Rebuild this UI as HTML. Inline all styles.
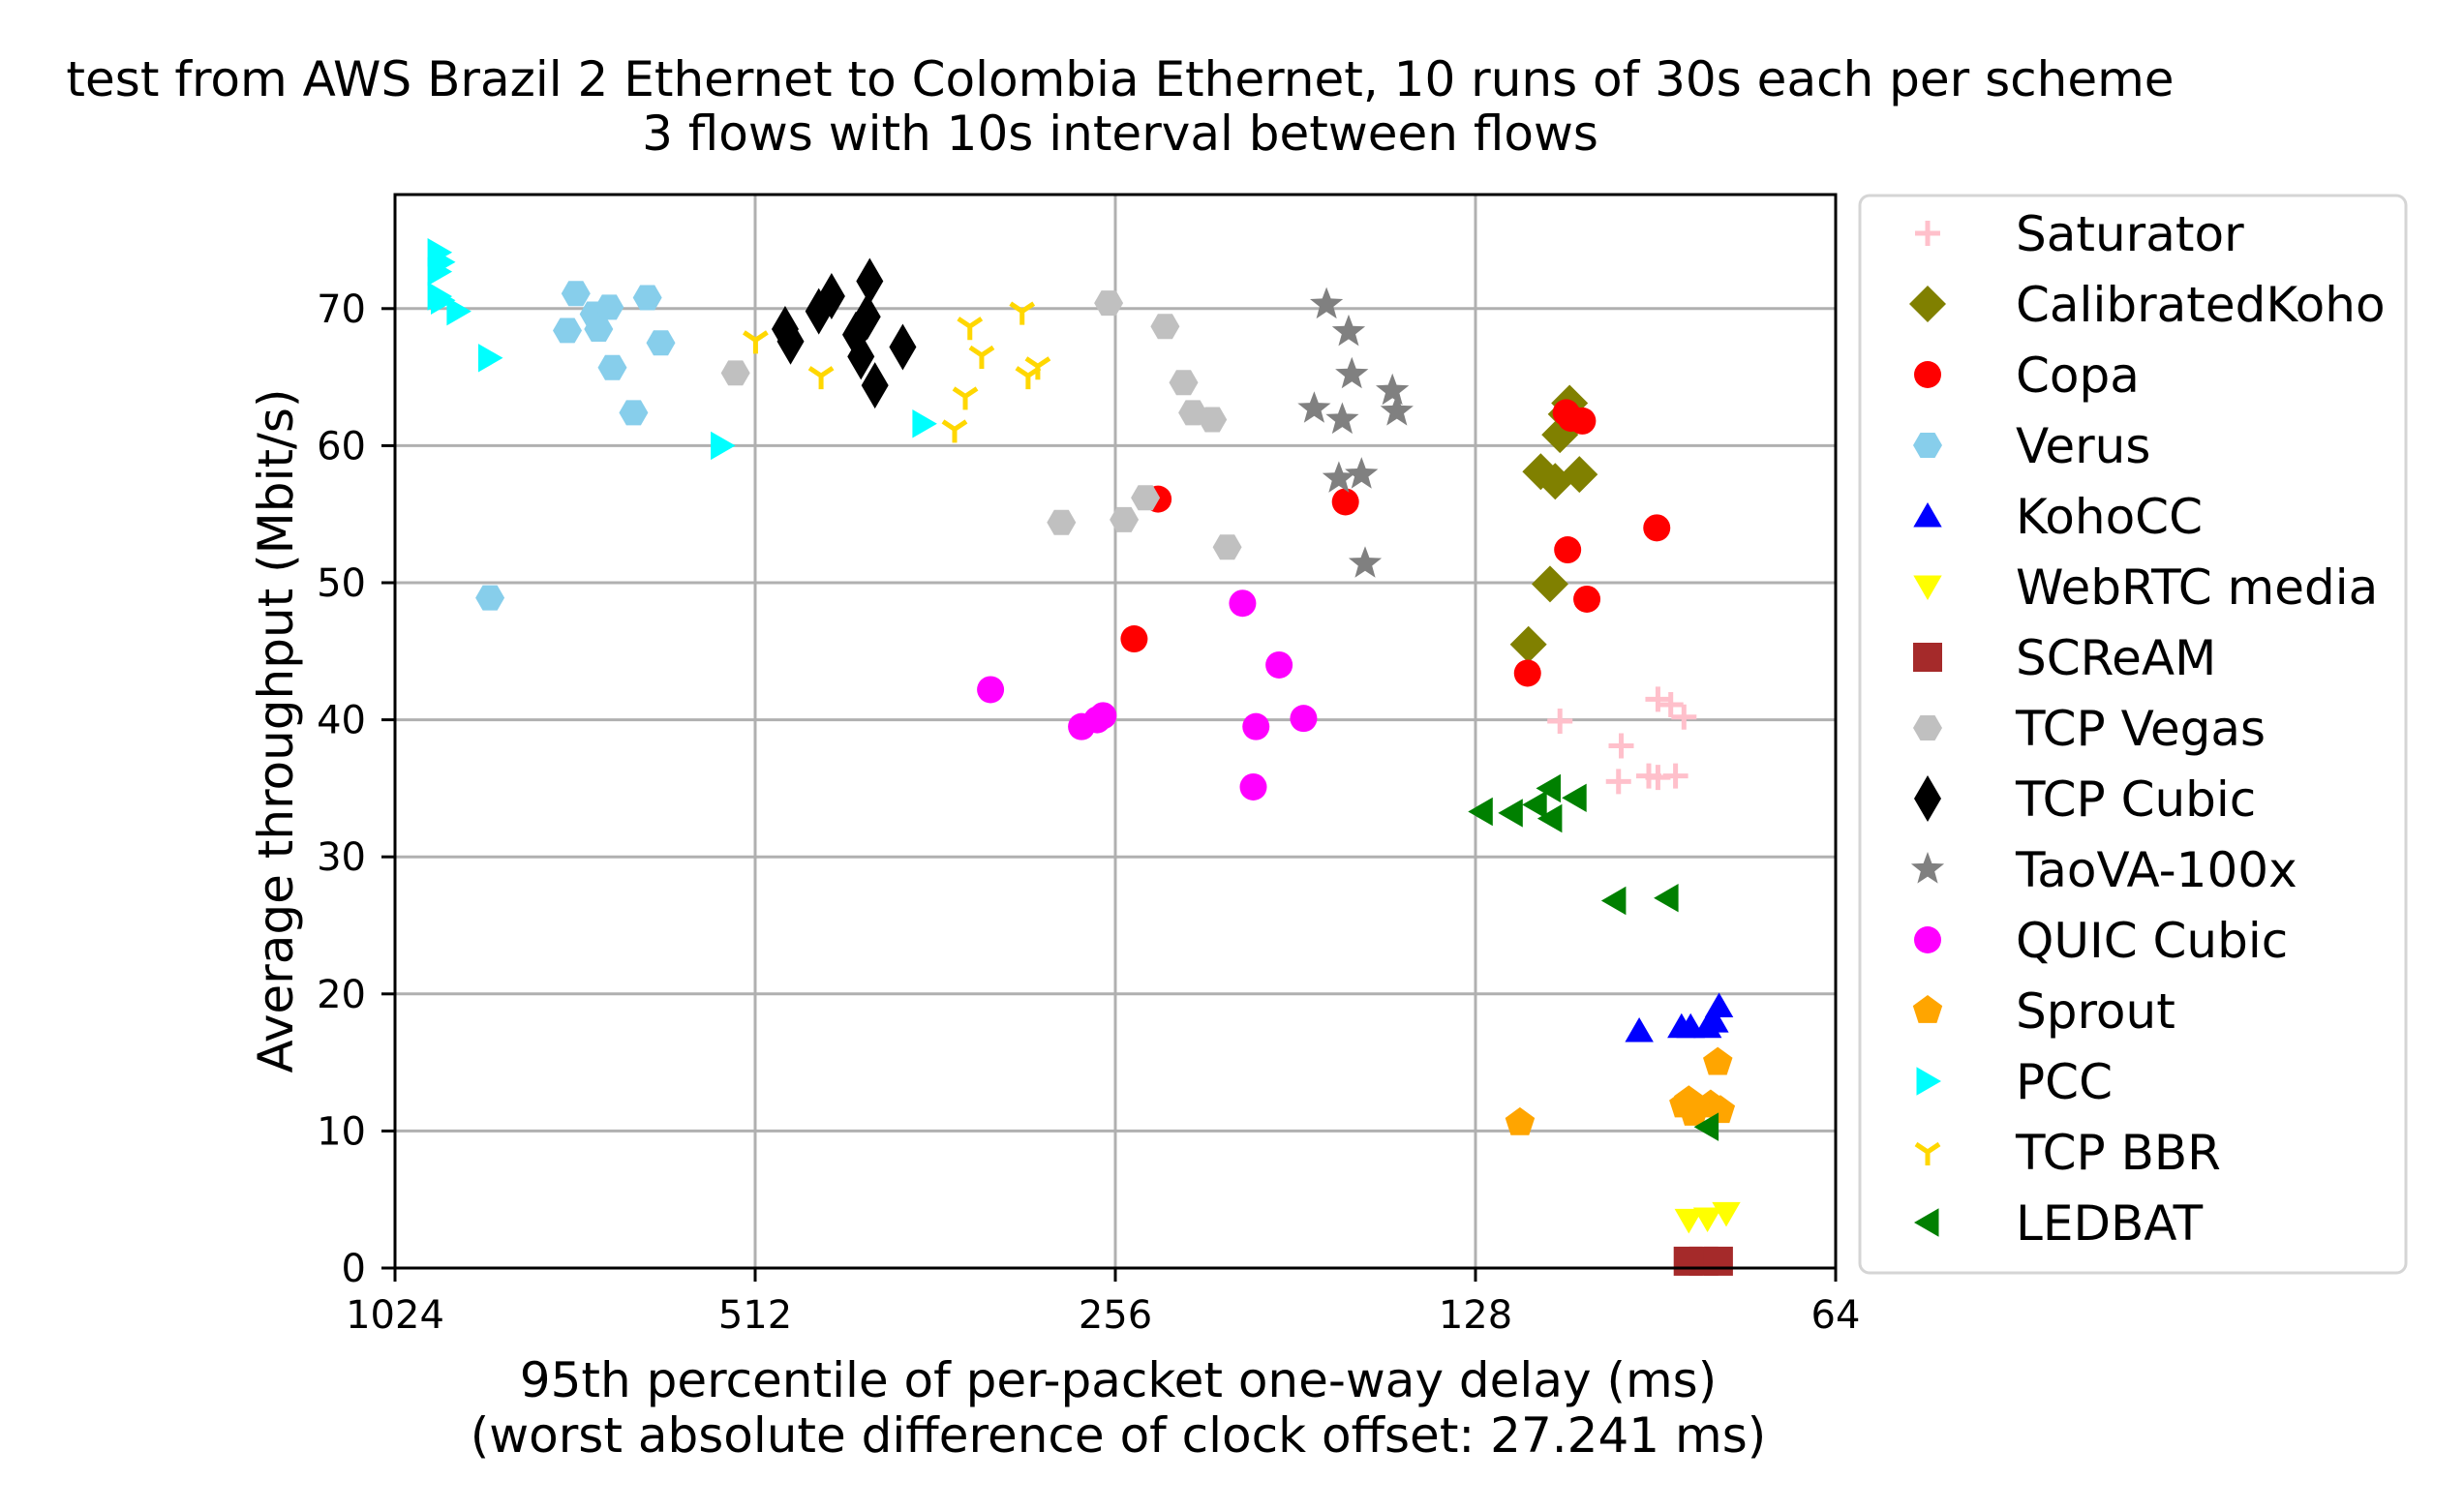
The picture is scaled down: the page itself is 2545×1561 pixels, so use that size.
<!DOCTYPE html>
<html><head><meta charset="utf-8"><style>
html,body{margin:0;padding:0;background:#fff;}
svg{display:block;font-family:"DejaVu Sans","Liberation Sans",sans-serif;}
</style></head><body>
<svg id="chart" width="2545" height="1561" xmlns="http://www.w3.org/2000/svg">
<rect width="2545" height="1561" fill="#fff"/>
<g id="grid"></g>
<g id="marks"></g>
<rect x="408" y="201" width="1488" height="1109" fill="none" stroke="#000" stroke-width="3"/>
<g id="ticks"></g>
<text x="1157" y="99" font-size="50" text-anchor="middle">test from AWS Brazil 2 Ethernet to Colombia Ethernet, 10 runs of 30s each per scheme</text>
<text x="1157" y="155" font-size="50" text-anchor="middle">3 flows with 10s interval between flows</text>
<text x="1155" y="1443" font-size="50" text-anchor="middle">95th percentile of per-packet one-way delay (ms)</text>
<text x="1155" y="1500" font-size="50" text-anchor="middle">(worst absolute difference of clock offset: 27.241 ms)</text>
<text transform="translate(302,755) rotate(-90)" font-size="50" text-anchor="middle">Average throughput (Mbit/s)</text>
<g id="legend">
<rect x="1921" y="202" width="564" height="1113" rx="10" fill="#fff" stroke="#d5d5d5" stroke-width="3"/>
</g>
</svg>
<script>
const xTicks = [1024, 512, 256, 128, 64];
const yTicks = [0, 10, 20, 30, 40, 50, 60, 70];
const schemes = ["Saturator","CalibratedKoho","Copa","Verus","KohoCC","WebRTC media","SCReAM","TCP Vegas","TCP Cubic","TaoVA-100x","QUIC Cubic","Sprout","PCC","TCP BBR","LEDBAT"];
const saturatorPts = [[108.8,39.9],[96.7,38.1],[97.2,35.5],[91.7,35.9],[90.1,41.5],[87.9,41.1],[85.7,40.2],[90.1,35.8],[87.1,35.9]];
const calibratedKohoPts = [[106.8,63.1],[107.5,62.3],[108.8,60.8],[112.9,58.1],[109.8,57.4],[104.8,57.9],[110.9,49.9],[115.6,45.5]];
const copaPts = [[235.8,56.1],[246.9,45.9],[164.4,55.9],[115.8,43.4],[107.5,62.4],[106.5,62.0],[104.2,61.8],[107.2,52.4],[103.3,48.8],[90.3,54.0]];
const verusPts = [[723,71.1],[735,68.4],[692,68.5],[698,69.6],[678,70.1],[630,70.8],[614,67.5],[674,65.7],[647,62.4],[853,48.9]];
const kohoPts = [[93.4,17.3],[86.1,17.6],[84.6,17.6],[81.9,17.6],[80.1,19.1],[80.8,18.0]];
const webrtcPts = [[84.9,3.5],[81.9,3.6],[79.0,4.0]];
const screamPts = [[85,0.5],[82.5,0.5],[80.2,0.5]];
const vegasPts = [[531.7,65.3],[284,54.4],[259.3,70.4],[251.7,54.6],[241.6,56.2],[232.6,68.7],[224.5,64.6],[220.5,62.4],[212.4,61.9],[206.4,52.6]];
const cubicPts = [[483.3,68.5],[478.3,67.6],[453,69.8],[442,70.9],[421.8,68.1],[417.7,66.5],[412.7,69.4],[410.7,72.0],[406.6,64.4],[385.4,67.2]];
const taovaPts = [[170.5,70.3],[163.4,68.3],[162.4,65.2],[174.6,62.7],[165.4,61.9],[166.5,57.6],[159.4,57.9],[158.3,51.4],[150.2,64.0],[148.9,62.5]];
const quicPts = [[325.5,42.2],[273.2,39.5],[265.1,40.0],[262.1,40.3],[200.4,48.5],[195.3,39.5],[186.8,44.0],[196.3,35.1],[178.2,40.1]];
const sproutPts = [[117.5,10.6],[85.7,11.9],[84.1,11.3],[81.4,11.9],[79.9,11.5],[80.3,15.0],[84.9,12.2]];
const pccPts = [[941.5,74.1],[935.5,73.4],[941.5,72.7],[941.5,70.9],[935.5,70.6],[907.3,69.8],[853.9,66.4],[545.9,60.0],[370.3,61.6]];
const bbrPts = [[511.6,67.7],[451,65.1],[348.8,61.2],[341.7,63.6],[338.7,68.7],[331.1,66.6],[306.3,69.8],[302.8,65.1],[297.2,65.8]];
const ledbatPts = [[126.5,33.3],[119.4,33.2],[114,33.8],[111,35.0],[110.7,32.8],[105.6,34.3],[97.9,26.8],[88.5,27.0],[81.9,10.3]];

const NS="http://www.w3.org/2000/svg";
const L=408,R=1896,T=201,B=1310;
function xs(d){return L+(Math.log2(1024)-Math.log2(d))/4*(R-L);}
function ys(v){return B-v*14.16;}
function mk(tag,attrs,parent){const e=document.createElementNS(NS,tag);for(const k in attrs)e.setAttribute(k,attrs[k]);parent.appendChild(e);return e;}
const grid=document.getElementById('grid'),ticks=document.getElementById('ticks'),marks=document.getElementById('marks'),legend=document.getElementById('legend');
xTicks.forEach(t=>{const x=xs(t);
 const g=mk('line',{x1:x,x2:x,y1:T,y2:B,stroke:'#b0b0b0','stroke-width':3},grid);
 
 
 const tk=mk('line',{x1:x,x2:x,y1:B,y2:B+14,stroke:'#000','stroke-width':3},ticks);
 
 
 const lb=mk('text',{x:x,y:1372,'font-size':40,'text-anchor':'middle'},ticks);lb.textContent=t;
 
 
});
yTicks.forEach(t=>{const y=ys(t);
 const g=mk('line',{x1:L,x2:R,y1:y,y2:y,stroke:'#b0b0b0','stroke-width':3},grid);
 
 
 const tk=mk('line',{x1:L-14,x2:L,y1:y,y2:y,stroke:'#000','stroke-width':3},ticks);
 
 
 const lb=mk('text',{x:378,y:y+14,'font-size':40,'text-anchor':'end'},ticks);lb.textContent=t;
 
 
});
function poly(n,r,rot,x,y){let p=[];for(let i=0;i<n;i++){const a=rot+i*2*Math.PI/n;p.push((x+r*Math.cos(a)).toFixed(1)+','+(y+r*Math.sin(a)).toFixed(1));}return p.join(' ');}
function star(x,y,r){let p=[];for(let i=0;i<10;i++){const rr=i%2?r*0.42:r;const a=-Math.PI/2+i*Math.PI/5;p.push((x+rr*Math.cos(a)).toFixed(1)+','+(y+rr*Math.sin(a)).toFixed(1));}return p.join(' ');}
function drawMarker(type,color,x,y,parent){
 let e;
 switch(type){
 case '+': e=mk('path',{d:`M${x-13},${y}H${x+13}M${x},${y-13}V${y+13}`,stroke:color,'stroke-width':5,fill:'none'},parent);break;
 case 'D': e=mk('polygon',{points:`${x},${y-19} ${x+19},${y} ${x},${y+19} ${x-19},${y}`,fill:color},parent);break;
 case 'o': e=mk('circle',{cx:x,cy:y,r:14,fill:color},parent);break;
 case 'h': e=mk('polygon',{points:poly(6,15,0,x,y),fill:color},parent);break;
 case '^': e=mk('polygon',{points:poly(3,17,-Math.PI/2,x,y+3),fill:color},parent);break;
 case 'v': e=mk('polygon',{points:poly(3,17,Math.PI/2,x,y-3),fill:color},parent);break;
 case '>': e=mk('polygon',{points:poly(3,17,0,x-3,y),fill:color},parent);break;
 case '<': e=mk('polygon',{points:poly(3,17,Math.PI,x+3,y),fill:color},parent);break;
 case 's': e=mk('rect',{x:x-15,y:y-15,width:30,height:30,fill:color},parent);break;
 case 'd': e=mk('polygon',{points:`${x},${y-24} ${x+14},${y} ${x},${y+24} ${x-14},${y}`,fill:color},parent);break;
 case '*': e=mk('polygon',{points:star(x,y,18),fill:color},parent);break;
 case 'p': e=mk('polygon',{points:poly(5,16,-Math.PI/2,x,y),fill:color},parent);break;
 case '1': e=mk('path',{d:`M${x},${y}V${y+14}M${x},${y}L${x-12},${y-8}M${x},${y}L${x+12},${y-8}`,stroke:color,'stroke-width':5,fill:'none'},parent);break;
 }
 return e;
}
const series=[
 ['+','#ffc0cb',saturatorPts],['D','#808000',calibratedKohoPts],['o','#ff0000',copaPts],['h','#87ceeb',verusPts],
 ['^','#0000ff',kohoPts],['v','#ffff00',webrtcPts],['s','#a52a2a',screamPts],['h','#c0c0c0',vegasPts],
 ['d','#000000',cubicPts],['*','#808080',taovaPts],['o','#ff00ff',quicPts],['p','#ffa500',sproutPts],
 ['>','#00ffff',pccPts],['1','#ffd700',bbrPts],['<','#008000',ledbatPts]];
series.forEach((s,i)=>{
 const g=mk('g',{},marks);
 
 
 s[2].forEach(p=>{const e=drawMarker(s[0],s[1],xs(p[0]),ys(p[1]),g);
  
  });
 const ly=241+i*73;
 const lg=mk('g',{},legend);
 
 
 drawMarker(s[0],s[1],1991,ly,lg);
 const t=mk('text',{x:2082,y:ly+18,'font-size':50},lg);t.textContent=schemes[i];
});
</script>
</body></html>
